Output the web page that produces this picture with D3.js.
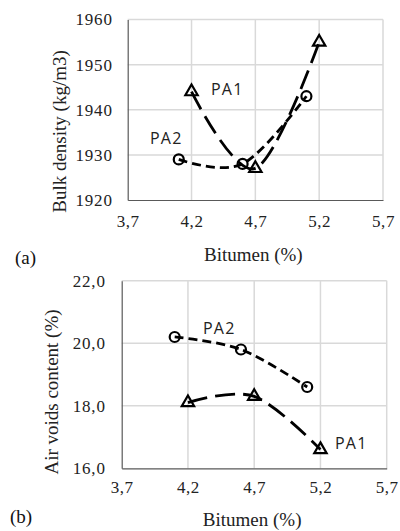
<!DOCTYPE html>
<html>
<head>
<meta charset="utf-8">
<script src="https://cdn.jsdelivr.net/npm/d3@7"></script>
<style>
  html, body { margin: 0; padding: 0; background: #fff; }
  svg { display: block; }
</style>
</head>
<body>
<svg id="chart" width="400" height="531"></svg>
<script>
// ---- Data ----
const xTicks = [3.7, 4.2, 4.7, 5.2, 5.7];
const xTickLabels = ["3,7", "4,2", "4,7", "5,2", "5,7"];

// (a) Bulk density
const densityTicks = [1920, 1930, 1940, 1950, 1960];
const densityPA1x = [4.2, 4.7, 5.2];
const densityPA1y = [1944, 1927, 1955];
const densityPA2x = [4.1, 4.6, 5.1];
const densityPA2y = [1929, 1928, 1943];

// (b) Air voids content
const voidsTicks = [16, 18, 20, 22];
const voidsTickLabels = ["16,0", "18,0", "20,0", "22,0"];
const voidsPA1x = [4.2, 4.7, 5.2];
const voidsPA1y = [18.1, 18.3, 16.6];
const voidsPA2x = [4.1, 4.6, 5.1];
const voidsPA2y = [20.2, 19.8, 18.6];

const svg = d3.select("#chart");
const serif = "'Liberation Serif', 'Times New Roman', serif";
const sans = "'Open Sans', 'Liberation Sans', sans-serif";

function panel(cfg) {
  const x = d3.scaleLinear().domain([3.7, 5.7]).range([cfg.left, cfg.right]);
  const y = d3.scaleLinear().domain(cfg.yDomain).range([cfg.bottom, cfg.top]);
  const g = svg.append("g");

  // gridlines
  g.append("g").selectAll("line").data(xTicks.slice(1)).join("line")
    .attr("x1", d => x(d)).attr("x2", d => x(d))
    .attr("y1", cfg.top).attr("y2", cfg.bottom)
    .attr("stroke", "#d9d9d9").attr("stroke-width", 1.5);
  g.append("g").selectAll("line").data(cfg.yTicks.slice(1)).join("line")
    .attr("x1", cfg.left).attr("x2", cfg.right)
    .attr("y1", d => y(d)).attr("y2", d => y(d))
    .attr("stroke", "#d9d9d9").attr("stroke-width", 1.5);

  // axes (no tick marks)
  const xAxis = d3.axisBottom(x).tickValues(xTicks).tickSize(0)
    .tickFormat((d, i) => xTickLabels[i]).tickPadding(cfg.xPad);
  const gx = g.append("g").attr("transform", `translate(0,${cfg.bottom})`).call(xAxis);
  gx.select(".domain").attr("stroke", "#595959").attr("stroke-width", 1.2);
  gx.selectAll("text").attr("font-family", serif).attr("font-size", 17)
    .attr("fill", "#222").attr("letter-spacing", 0.6);

  const yAxis = d3.axisLeft(y).tickValues(cfg.yTicks).tickSize(0)
    .tickFormat((d, i) => cfg.yLabels[i]).tickPadding(cfg.yPad);
  const gy = g.append("g").attr("transform", `translate(${cfg.left},0)`).call(yAxis);
  gy.select(".domain").attr("stroke", "#595959").attr("stroke-width", 1.2);
  gy.selectAll("text").attr("font-family", serif).attr("font-size", 17)
    .attr("fill", "#222").attr("letter-spacing", 0.8);

  // lines
  const line = d3.line().x(d => x(d[0])).y(d => y(d[1])).curve(d3.curveCatmullRom.alpha(0));
  const pa2 = cfg.pa2x.map((v, i) => [v, cfg.pa2y[i]]);
  const pa1 = cfg.pa1x.map((v, i) => [v, cfg.pa1y[i]]);

  g.append("path").attr("d", line(pa2)).attr("fill", "none")
    .attr("stroke", "#000").attr("stroke-width", 2.8).attr("stroke-dasharray", "9,5");
  g.append("path").attr("d", line(pa1)).attr("fill", "none")
    .attr("stroke", "#000").attr("stroke-width", 2.8).attr("stroke-dasharray", "20,8");

  // markers
  g.append("g").selectAll("circle").data(pa2).join("circle")
    .attr("cx", d => x(d[0])).attr("cy", d => y(d[1])).attr("r", 5)
    .attr("fill", "none").attr("stroke", "#000").attr("stroke-width", 2.2);
  const tri = d3.symbol().type(d3.symbolTriangle).size(66);
  g.append("g").selectAll("path").data(pa1).join("path")
    .attr("d", tri)
    .attr("transform", d => `translate(${x(d[0])},${y(d[1])})`)
    .attr("fill", "none").attr("stroke", "#000").attr("stroke-width", 2.2);

  // series labels
  cfg.labels.forEach(l => {
    g.append("text").attr("x", l.x).attr("y", l.y).text(l.t)
      .attr("font-family", sans).attr("font-size", 16).attr("letter-spacing", 1.2)
      .attr("fill", "#222");
  });

  // axis titles
  g.append("text").attr("x", (cfg.left + cfg.right) / 2 - 2).attr("y", cfg.xTitleY)
    .attr("text-anchor", "middle").attr("font-family", serif).attr("font-size", 19)
    .attr("fill", "#222").text("Bitumen (%)");
  g.append("text")
    .attr("transform", `translate(${cfg.yTitleX},${cfg.yTitleY}) rotate(-90)`)
    .attr("text-anchor", "middle").attr("font-family", serif).attr("font-size", 19)
    .attr("fill", "#222").text(cfg.yTitle);
  g.append("text").attr("x", cfg.tagX).attr("y", cfg.tagY)
    .attr("font-family", serif).attr("font-size", 19).attr("fill", "#111").text(cfg.tag);
}

panel({
  left: 127.7, right: 383, top: 19.5, bottom: 200,
  yDomain: [1920, 1960], yTicks: densityTicks, yLabels: densityTicks.map(String),
  pa1x: densityPA1x, pa1y: densityPA1y, pa2x: densityPA2x, pa2y: densityPA2y,
  xPad: 15, yPad: 15,
  labels: [{t: "PA1", x: 211, y: 94.5}, {t: "PA2", x: 150, y: 143.5}],
  xTitleY: 261, yTitle: "Bulk density (kg/m3)", yTitleX: 66, yTitleY: 131.5,
  tag: "(a)", tagX: 15, tagY: 264
});

panel({
  left: 121.7, right: 386.7, top: 280.7, bottom: 468.3,
  yDomain: [16, 22], yTicks: voidsTicks, yLabels: voidsTickLabels,
  pa1x: voidsPA1x, pa1y: voidsPA1y, pa2x: voidsPA2x, pa2y: voidsPA2y,
  xPad: 13, yPad: 16,
  labels: [{t: "PA2", x: 203, y: 334}, {t: "PA1", x: 335, y: 449}],
  xTitleY: 525.5, yTitle: "Air voids content (%)", yTitleX: 58, yTitleY: 392,
  tag: "(b)", tagX: 10, tagY: 523
});
</script>
</body>
</html>
